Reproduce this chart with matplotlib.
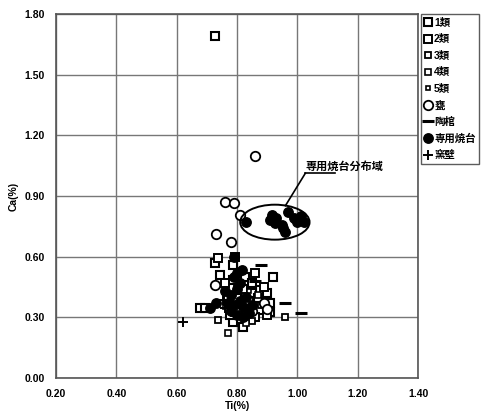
import matplotlib
matplotlib.use("Agg")
import matplotlib.pyplot as plt
import numpy as np
from matplotlib.patches import Ellipse

plt.rcParams['font.family'] = ['Liberation Sans', 'Noto Sans CJK JP', 'DejaVu Sans']
plt.rcParams['font.weight'] = 'bold'

# Ti(%), Ca(%) for each group
sq1_ti = [0.727, 0.678, 0.694, 0.727, 0.787, 0.744, 0.787, 0.827, 0.920, 0.850, 0.877,
          0.850, 0.900, 0.870, 0.910, 0.800, 0.843, 0.877, 0.910, 0.787, 0.820, 0.777]
sq1_ca = [1.690, 0.346, 0.346, 0.568, 0.559, 0.509, 0.484, 0.499, 0.499, 0.470, 0.435,
          0.420, 0.420, 0.395, 0.371, 0.395, 0.346, 0.336, 0.326, 0.277, 0.252, 0.311]
sq2_ti = [0.737, 0.794, 0.761, 0.820, 0.860, 0.840, 0.890, 0.800, 0.860, 0.900, 0.770, 0.830]
sq2_ca = [0.593, 0.600, 0.470, 0.440, 0.520, 0.380, 0.450, 0.340, 0.300, 0.310, 0.400, 0.300]
sq3_ti = [0.737, 0.810, 0.880, 0.960, 0.800, 0.850, 0.790]
sq3_ca = [0.287, 0.360, 0.360, 0.300, 0.450, 0.280, 0.320]
sq4_ti = [0.770, 0.820, 0.870, 0.830]
sq4_ca = [0.222, 0.330, 0.410, 0.270]
sq5_ti = [0.760, 0.840, 0.800]
sq5_ca = [0.350, 0.430, 0.300]
kame_ti = [0.860, 0.760, 0.790, 0.810, 0.730, 0.780, 0.727, 0.890, 0.900, 0.850, 0.800]
kame_ca = [1.100, 0.870, 0.865, 0.805, 0.710, 0.672, 0.460, 0.370, 0.340, 0.330, 0.330]
tokan_ti = [0.960, 1.010, 0.880, 0.860]
tokan_ca = [0.370, 0.320, 0.560, 0.480]
# 専用焼台: inside the marked region / elsewhere
dai_in_ti = [0.830, 0.916, 0.910, 0.926, 0.950, 0.953, 0.960, 0.970, 0.987, 1.000, 1.020, 1.010, 0.930]
dai_in_ca = [0.770, 0.806, 0.780, 0.767, 0.757, 0.742, 0.722, 0.820, 0.790, 0.770, 0.770, 0.800, 0.790]
dai_out_ti = [0.710, 0.730, 0.800, 0.817, 0.790, 0.760, 0.780, 0.790, 0.810, 0.830, 0.800,
              0.820, 0.840, 0.780, 0.810, 0.790, 0.820, 0.850, 0.770, 0.800]
dai_out_ca = [0.346, 0.370, 0.520, 0.534, 0.600, 0.430, 0.410, 0.360, 0.380, 0.400, 0.310,
              0.350, 0.320, 0.330, 0.470, 0.500, 0.300, 0.360, 0.370, 0.440]
kabe_ti = [0.621, 0.754, 0.760]
kabe_ca = [0.277, 0.385, 0.346]

labels = ['1類', '2類', '3類', '4類', '5類', '甕', '陶棺', '専用焼台', '窯壁']

fig = plt.figure(figsize=(4.84, 4.17), dpi=100)
ax = fig.add_axes([0.116, 0.0935, 0.748, 0.8725])

sq_kw = dict(ls='none', marker='s', mfc='white', mec='black')
ax.plot(sq1_ti, sq1_ca, ms=6, mew=1.5, label=labels[0], **sq_kw)
ax.plot(sq2_ti, sq2_ca, ms=5.3, mew=1.4, label=labels[1], **sq_kw)
ax.plot(sq3_ti, sq3_ca, ms=4.5, mew=1.3, label=labels[2], **sq_kw)
ax.plot(sq4_ti, sq4_ca, ms=3.7, mew=1.2, label=labels[3], **sq_kw)
ax.plot(sq5_ti, sq5_ca, ms=3.0, mew=1.2, label=labels[4], **sq_kw)
ax.plot(kame_ti, kame_ca, ls='none', marker='o', ms=6.8, mfc='white', mec='black',
        mew=1.3, label=labels[5])
ax.plot(tokan_ti, tokan_ca, ls='none', marker='_', ms=8, mew=2.2, color='black',
        label=labels[6])
ax.plot(dai_in_ti + dai_out_ti, dai_in_ca + dai_out_ca, ls='none', marker='o', ms=6.8,
        color='black', label=labels[7])
ax.plot(kabe_ti, kabe_ca, ls='none', marker='+', ms=7, mew=1.4, color='black',
        label=labels[8])

# region around the dedicated kiln-stand points
cx = (min(dai_in_ti) + max(dai_in_ti)) / 2
cy = (min(dai_in_ca) + max(dai_in_ca)) / 2
w = max(dai_in_ti) - min(dai_in_ti) + 0.04
h = max(dai_in_ca) - min(dai_in_ca) + 0.075
ax.add_patch(Ellipse((cx, cy), w, h, fill=False, ec='black', lw=1.4, zorder=3))

txt = ax.text(1.026, 1.02, '専用焼台分布域', fontsize=8, fontweight='bold',
              ha='left', va='bottom')
ax.plot([1.026, cx + 0.035], [1.013, cy + h / 2 - 0.005], color='black', lw=1.2)
fig.canvas.draw()
bb = txt.get_window_extent().transformed(ax.transData.inverted())
ax.plot([bb.x0, bb.x1], [1.013, 1.013], color='black', lw=1.2, clip_on=False)

ax.set_xlim(0.2, 1.4)
ax.set_ylim(0.0, 1.8)
ax.set_xticks(np.arange(0.2, 1.41, 0.2))
ax.set_yticks(np.arange(0.0, 1.81, 0.3))
ax.set_xticklabels([f'{v:.2f}' for v in np.arange(0.2, 1.41, 0.2)])
ax.set_yticklabels([f'{v:.2f}' for v in np.arange(0.0, 1.81, 0.3)])
ax.tick_params(length=0, labelsize=7.5, pad=8)
for lab in ax.get_xticklabels() + ax.get_yticklabels():
    lab.set_fontweight('bold')
ax.grid(True, color='#777777', lw=1)
ax.set_axisbelow(True)
for s in ax.spines.values():
    s.set_color('#555555')
    s.set_linewidth(1.2)
ax.set_xlabel('Ti(%)', fontsize=7.5, fontweight='bold', labelpad=1)
ax.set_ylabel('Ca(%)', fontsize=7.5, fontweight='bold', labelpad=4)

leg = ax.legend(loc='upper left', bbox_to_anchor=(1.008, 1.0), fontsize=7.5,
                frameon=True, fancybox=False, edgecolor='#333333', borderpad=0.35,
                handlelength=0.6, handletextpad=0.3, labelspacing=0.62,
                borderaxespad=0)
leg.get_frame().set_linewidth(1.0)
for t in leg.get_texts():
    t.set_fontweight('bold')

fig.savefig('out.png', dpi=100)
